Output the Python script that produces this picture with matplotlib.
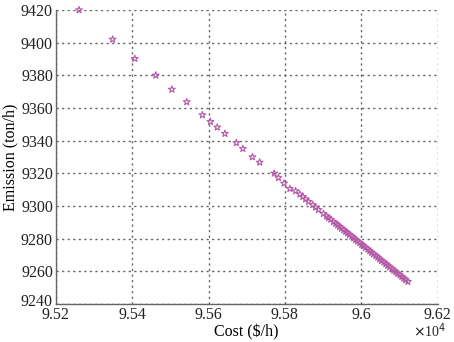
import numpy as np
import matplotlib
matplotlib.use("Agg")
import matplotlib.pyplot as plt
import matplotlib.transforms as mtransforms

plt.rcParams['font.family'] = ['Liberation Serif', 'DejaVu Serif']

# Pareto front (cost in units of 1e4 $/h, emission in ton/h)
cost = [9.5261, 9.5349, 9.5407, 9.5462, 9.5504, 9.5543, 9.5584, 9.5605, 9.5623,
        9.5643, 9.5673, 9.5690, 9.5715, 9.5734, 9.5772, 9.5783, 9.5798, 9.5813,
        9.5828, 9.5839, 9.5847, 9.5854, 9.5862, 9.5873, 9.5880, 9.5888, 9.5901,
        9.5909, 9.5914, 9.5920, 9.5927, 9.5933, 9.5938, 9.5943, 9.5948, 9.5954,
        9.5959, 9.5964, 9.5969, 9.5975, 9.5980, 9.5985, 9.5990, 9.5996, 9.6001,
        9.6006, 9.6011, 9.6017, 9.6022, 9.6027, 9.6032, 9.6038, 9.6043, 9.6048,
        9.6053, 9.6059, 9.6064, 9.6069, 9.6074, 9.6080, 9.6085, 9.6090, 9.6095,
        9.6101, 9.6106, 9.6111, 9.6116, 9.6122]
emission = [9420.0, 9402.0, 9390.2, 9380.0, 9371.4, 9363.7, 9355.7, 9351.6, 9348.2,
            9344.3, 9338.7, 9335.1, 9330.0, 9326.7, 9320.0, 9317.3, 9313.9, 9310.6,
            9309.2, 9307.2, 9305.7, 9304.2, 9302.7, 9300.7, 9299.2, 9297.7, 9295.3,
            9293.7, 9292.7, 9291.8, 9290.3, 9289.3, 9288.3, 9287.3, 9286.3, 9285.3,
            9284.3, 9283.4, 9282.4, 9281.4, 9280.4, 9279.4, 9278.4, 9277.4, 9276.4,
            9275.5, 9274.5, 9273.5, 9272.5, 9271.5, 9270.5, 9269.5, 9268.6, 9267.5,
            9266.5, 9265.6, 9264.6, 9263.6, 9262.6, 9261.6, 9260.6, 9259.6, 9258.6,
            9257.7, 9256.7, 9255.7, 9254.7, 9253.7]

xticks = [9.52, 9.54, 9.56, 9.58, 9.60, 9.62]
xticklabels = ['9.52', '9.54', '9.56', '9.58', '9.6', '9.62']
yticks = [9240, 9260, 9280, 9300, 9320, 9340, 9360, 9380, 9400, 9420]

fig = plt.figure(figsize=(4.54, 3.42), dpi=100)
ax = fig.add_axes([0.1227, 0.1111, 0.8414, 0.8597])

ax.scatter(cost, emission, marker='*', s=26, facecolors='none',
           edgecolors='#b558a8', linewidths=0.8, zorder=3, clip_on=False)

ax.set_xlim(9.52, 9.62)
ax.set_ylim(9240, 9420)
ax.set_xticks(xticks)
ax.set_xticklabels(xticklabels)
ax.set_yticks(yticks)

ax.grid(True, linestyle=(0, (1.6, 2.4)), color='#666666', linewidth=1.0)
for s in ['top', 'right']:
    ax.spines[s].set_visible(False)
for s in ['left', 'bottom']:
    ax.spines[s].set_color('#666666')
    ax.spines[s].set_linewidth(1.0)
ax.tick_params(length=0, labelsize=11.5, colors='#222222')
ax.tick_params(axis='x', pad=2)
ax.tick_params(axis='y', pad=2)
# nudge the lowest y label up a bit so it does not run into the first x label
lab = ax.get_yticklabels()[0]
lab.set_transform(lab.get_transform() + mtransforms.ScaledTranslation(0, 3 / 72, fig.dpi_scale_trans))

ax.set_xlabel('Cost ($/h)', fontsize=11.5, labelpad=1)
ax.set_ylabel('Emission (ton/h)', fontsize=11.5, labelpad=2)
fig.text(0.91, 0.016, r'$\times$10$^4$', fontsize=10, color='#222222')

fig.savefig('out.png', dpi=100)
